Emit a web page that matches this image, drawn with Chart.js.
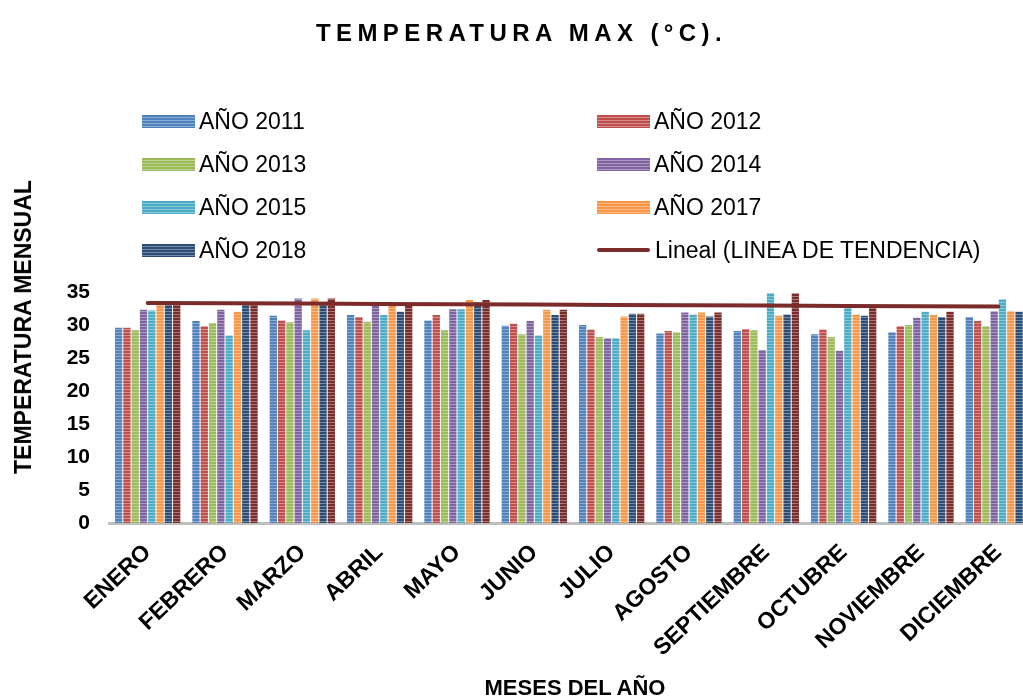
<!DOCTYPE html>
<html>
<head>
<meta charset="utf-8">
<script src="https://cdn.jsdelivr.net/npm/chart.js@4.4.1/dist/chart.umd.min.js"></script>
<style>
  html, body { margin: 0; padding: 0; background: #fff; overflow: hidden; width: 1023px; height: 699px; }
  body { position: relative; font-family: 'Liberation Sans', Arial, sans-serif; color: #000; }
  #c { position: absolute; left: 0; top: 0; }
  .title { position: absolute; left: 316px; top: 18px; font-size: 24px; font-weight: bold; letter-spacing: 5.4px; white-space: nowrap; line-height: 30px; }
  .ytitle { position: absolute; left: 23px; top: 327px; transform: translate(-50%, -50%) rotate(-90deg); font-size: 23px; font-weight: bold; white-space: nowrap; line-height: 26px; }
  .xtitle { position: absolute; left: 575px; top: 688px; transform: translate(-50%, -50%); font-size: 22px; font-weight: bold; white-space: nowrap; line-height: 26px; }
  .leg { position: absolute; height: 28px; display: flex; align-items: center; white-space: nowrap; font-size: 23px; }
  .sw { width: 53px; height: 13px; margin-right: 4px; }
  .ln { width: 53px; height: 4px; margin: 0 5px 0 0; border-radius: 2px; }
</style>
</head>
<body>
<canvas id="c" width="1045" height="699"></canvas>
<div class="title">TEMPERATURA MAX (°C).</div>
<div class="ytitle">TEMPERATURA MENSUAL</div>
<div class="xtitle">MESES DEL AÑO</div>
<div id="legend"></div>
<script>
// ---- Data ----
const meses = ['ENERO','FEBRERO','MARZO','ABRIL','MAYO','JUNIO','JULIO','AGOSTO','SEPTIEMBRE','OCTUBRE','NOVIEMBRE','DICIEMBRE'];
const seriesNames = ['AÑO 2011','AÑO 2012','AÑO 2013','AÑO 2014','AÑO 2015','AÑO 2017','AÑO 2018'];
const a2011 = [29.6, 30.6, 31.4, 31.5, 30.7, 29.9, 30.0, 28.7, 29.1, 28.6, 28.9, 31.2];
const a2012 = [29.6, 29.8, 30.7, 31.2, 31.5, 30.2, 29.3, 29.1, 29.4, 29.3, 29.8, 30.6];
const a2013 = [29.2, 30.3, 30.4, 30.5, 29.2, 28.6, 28.2, 28.9, 29.2, 28.2, 30.0, 29.8];
const a2014 = [32.3, 32.3, 34.0, 33.1, 32.4, 30.6, 28.0, 31.9, 26.2, 26.1, 31.1, 32.1];
const a2015 = [32.2, 28.4, 29.2, 31.5, 32.4, 28.4, 28.0, 31.6, 34.8, 32.6, 32.0, 33.9];
const a2017 = [33.6, 32.0, 34.0, 33.1, 33.8, 32.3, 31.3, 31.9, 31.4, 31.6, 31.5, 32.1];
const a2018 = [33.6, 33.1, 33.2, 32.0, 33.5, 31.5, 31.7, 31.3, 31.6, 31.4, 31.2, 32.0];
const tendencia = [33.6, 33.1, 34.0, 33.1, 33.8, 32.3, 31.7, 31.9, 34.8, 32.6, 32.0, 33.9];
const trendName = 'Lineal (LINEA DE TENDENCIA)';
const yTicks = [0, 5, 10, 15, 20, 25, 30, 35];

const yearSeries = [a2011, a2012, a2013, a2014, a2015, a2017, a2018];
const colors = ['#4F81BD','#C0504D','#9BBB59','#8064A2','#4BACC6','#F79646','#2C4D75'];
const trendBarColor = '#7B2D2B';
const trendLineColor = '#7B2C2A';

// Linear (least-squares) trend of the LINEA DE TENDENCIA series, as in the original's "Lineal" trendline
function linearTrend(vals) {
  const n = vals.length;
  let sx = 0, sy = 0, sxy = 0, sxx = 0;
  vals.forEach((v, i) => { sx += i; sy += v; sxy += i * v; sxx += i * i; });
  const m = (n * sxy - sx * sy) / (n * sxx - sx * sx);
  const b = (sy - m * sx) / n;
  return vals.map((_, i) => b + m * i);
}

function hexToRgb(h) { const n = parseInt(h.slice(1), 16); return [(n >> 16) & 255, (n >> 8) & 255, n & 255]; }
function lighter(h, f) { const c = hexToRgb(h).map(v => Math.round(v + (255 - v) * f)); return `rgb(${c[0]},${c[1]},${c[2]})`; }
function stripes(color) {
  const p = document.createElement('canvas'); p.width = 4; p.height = 3;
  const g = p.getContext('2d');
  g.fillStyle = color; g.fillRect(0, 0, 4, 3);
  g.fillStyle = lighter(color, 0.35); g.fillRect(0, 2, 4, 1);
  return g.createPattern(p, 'repeat');
}

const datasets = yearSeries.map((d, i) => ({
  type: 'bar', label: seriesNames[i], data: d,
  backgroundColor: stripes(colors[i]), borderWidth: 0, order: 1
}));
datasets.push({ type: 'bar', label: 'LINEA DE TENDENCIA', data: tendencia, backgroundColor: stripes(trendBarColor), borderWidth: 0, order: 1 });
datasets.push({ type: 'line', label: trendName, data: linearTrend(tendencia), borderColor: trendLineColor, borderWidth: 4, pointRadius: 0, fill: false, tension: 0, order: 0, borderCapStyle: 'round' });

const FONT = "'Liberation Sans', Arial, sans-serif";
new Chart(document.getElementById('c'), {
  data: { labels: meses, datasets },
  options: {
    responsive: false, animation: false, devicePixelRatio: 1,
    layout: { padding: { top: 292, right: 8, left: 0, bottom: 0 } },
    plugins: { legend: { display: false }, title: { display: false }, tooltip: { enabled: false } },
    datasets: { bar: { categoryPercentage: 0.858, barPercentage: 0.88 } },
    scales: {
      x: {
        grid: { display: false, drawTicks: false },
        border: { display: true, color: '#BFBFBF', width: 3 },
        ticks: { color: '#000', font: { family: FONT, size: 23, weight: 'bold' }, minRotation: 43.5, maxRotation: 43.5, padding: 16, autoSkip: false },
        afterFit(s) { s.height = 176; }
      },
      y: {
        min: 0, max: 35,
        afterBuildTicks(s) { s.ticks = yTicks.map(v => ({ value: v })); },
        grid: { display: false, drawTicks: false },
        border: { display: false },
        ticks: { color: '#000', font: { family: FONT, size: 21, weight: 'bold' }, padding: 19 },
        afterFit(s) { s.width = 109; }
      }
    }
  }
});

// Legend (two columns, as in the reference)
const legend = document.getElementById('legend');
const legendItems = seriesNames.map((n, i) => ({ name: n, color: colors[i], line: false }));
legendItems.push({ name: trendName, color: trendLineColor, line: true });
const colX = [142, 597];
const rowY = [121, 164, 207, 250];
legendItems.forEach((it, i) => {
  const el = document.createElement('div');
  el.className = 'leg';
  el.style.left = colX[i % 2] + 'px';
  el.style.top = (rowY[Math.floor(i / 2)] - 14) + 'px';
  const sw = document.createElement('div');
  if (it.line) { sw.className = 'ln'; sw.style.background = it.color; }
  else {
    sw.className = 'sw';
    sw.style.background = `repeating-linear-gradient(to bottom, ${it.color} 0px, ${it.color} 2px, ${lighter(it.color, 0.35)} 2px, ${lighter(it.color, 0.35)} 3px)`;
  }
  const tx = document.createElement('span');
  tx.textContent = it.name;
  el.appendChild(sw); el.appendChild(tx);
  legend.appendChild(el);
});
</script>
</body>
</html>
